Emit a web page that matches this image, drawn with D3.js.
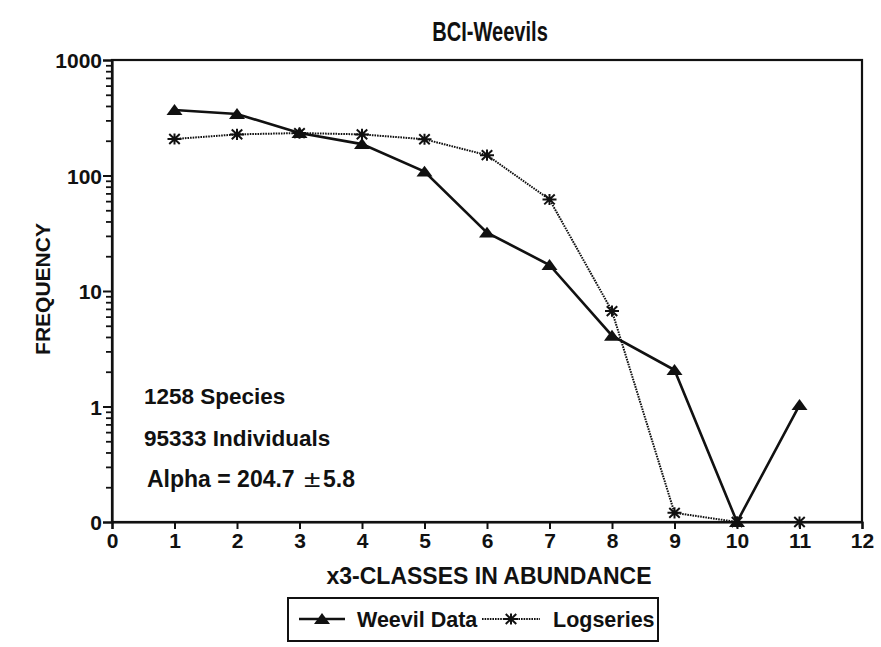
<!DOCTYPE html>
<html><head><meta charset="utf-8">
<script src="https://cdn.jsdelivr.net/npm/d3@7"></script>
<style>body{margin:0;background:#fff}svg{display:block}text{font-family:"Liberation Sans",Arial,sans-serif;fill:#111;font-weight:bold}</style>
</head><body>
<svg id="c" width="881" height="647"></svg>
<script>
const classes = [1,2,3,4,5,6,7,8,9,10,11];
const weevilData = [369, 341, 233, 187, 108, 32, 16.8, 4.1, 2.07, 0, 1.03];
const logseries = [207, 227, 233, 227, 206, 150, 62, 6.7, 0.12, 0, 0];
const xTicks = [0,1,2,3,4,5,6,7,8,9,10,11,12];
const yTickValues = [0.1, 1, 10, 100, 1000];
const yTickLabels = ["0", "1", "10", "100", "1000"];
const annotations = ["1258 Species", "95333 Individuals"];
const alphaText = ["Alpha = 204.7", "\u00B1", "5.8"];

const svg = d3.select("#c");
const L = 112, R = 862, T = 60, B = 522;
const x = d3.scaleLinear().domain([0,12]).range([L,R]);
const y = d3.scaleLog().domain([0.1,1000]).range([B,T]);
const yv = v => y(Math.max(v, 0.1));

// frame
svg.append("rect").attr("x",L).attr("y",T).attr("width",R-L).attr("height",B-T)
  .attr("fill","none").attr("stroke","#111").attr("stroke-width",2.2);

// x axis
const xa = svg.append("g").attr("transform",`translate(0,${B})`)
  .call(d3.axisBottom(x).tickValues(xTicks).tickSize(7).tickPadding(4).tickFormat(d3.format("d")));
xa.select(".domain").attr("stroke","#111").attr("stroke-width",2.2);
xa.selectAll(".tick line").attr("stroke","#111").attr("stroke-width",2);
xa.selectAll("text").style("font-size","21px").attr("fill","#111");

// y axis minor ticks
const minor = [];
for (let d = 0.1; d < 1000; d *= 10) for (let k = 2; k <= 9; k++) minor.push(d*k);
svg.append("g").attr("transform",`translate(${L},0)`)
  .call(d3.axisLeft(y).tickValues(minor).tickSize(6).tickFormat(""))
  .call(g=>g.select(".domain").remove())
  .selectAll(".tick line").attr("stroke","#111").attr("stroke-width",1.8);
const ya = svg.append("g").attr("transform",`translate(${L},0)`)
  .call(d3.axisLeft(y).tickValues(yTickValues).tickSize(9).tickPadding(1)
    .tickFormat((d,i)=>yTickLabels[i]));
ya.select(".domain").attr("stroke","#111").attr("stroke-width",2.2);
ya.selectAll(".tick line").attr("stroke","#111").attr("stroke-width",2);
ya.selectAll("text").style("font-size","21px").attr("fill","#111").attr("dy","0.36em");

// title and axis labels
svg.append("text").attr("transform","translate(490,41) scale(0.73,1)").attr("text-anchor","middle")
  .style("font-size","27.5px").text("BCI-Weevils");
svg.append("text").attr("x",489).attr("y",584).attr("text-anchor","middle")
  .style("font-size","23px").text("x3-CLASSES IN ABUNDANCE");
svg.append("text").attr("transform","translate(50,289) rotate(-90)").attr("text-anchor","middle")
  .style("font-size","21px").text("FREQUENCY");

// annotations
annotations.forEach((t,i)=>{
  svg.append("text").attr("x",144).attr("y",404+i*41.5)
    .style("font-size","22.5px").text(t);
});
const ay = 404 + 2*41.5;
svg.append("text").attr("x",147).attr("y",ay).style("font-size","23px").text(alphaText[0]);
svg.append("text").attr("x",304).attr("y",ay).style("font-size","23px").style("font-weight","normal")
  .attr("transform",`translate(304,${ay}) scale(1.3,1) translate(-304,${-ay})`).text(alphaText[1]);
svg.append("text").attr("x",323).attr("y",ay).style("font-size","23px").text(alphaText[2]);

// lines
const line = d3.line().x(d=>x(d[0])).y(d=>yv(d[1]));
const wPts = classes.map((c,i)=>[c,weevilData[i]]);
const lPts = classes.map((c,i)=>[c,logseries[i]]);
svg.append("path").attr("d",line(lPts)).attr("fill","none").attr("stroke","#111")
  .attr("stroke-width",2).attr("stroke-dasharray","1.6,1");
svg.append("path").attr("d",line(wPts)).attr("fill","none").attr("stroke","#111")
  .attr("stroke-width",2.6);

function tri(g,cx,cy,s){
  g.append("path").attr("d",`M${cx-s},${cy+s*0.62}L${cx},${cy-s*0.75}L${cx+s},${cy+s*0.62}Z`).attr("fill","#111");
}
function star(g,cx,cy,s){
  const d = `M${cx-s},${cy}L${cx+s},${cy}M${cx},${cy-s*0.8}L${cx},${cy+s*0.8}M${cx-s*0.75},${cy-s*0.7}L${cx+s*0.75},${cy+s*0.7}M${cx-s*0.75},${cy+s*0.7}L${cx+s*0.75},${cy-s*0.7}`;
  g.append("path").attr("d",d).attr("stroke","#111").attr("stroke-width",2).attr("fill","none");
}
const mg = svg.append("g");
lPts.forEach(p=>star(mg,x(p[0]),yv(p[1]),7));
wPts.forEach(p=>tri(mg,x(p[0]),yv(p[1]),8));

// legend
const lg = svg.append("g");
lg.append("rect").attr("x",288).attr("y",598).attr("width",370).attr("height",43)
  .attr("fill","none").attr("stroke","#111").attr("stroke-width",2);
lg.append("line").attr("x1",299).attr("x2",345).attr("y1",619).attr("y2",619)
  .attr("stroke","#111").attr("stroke-width",2.6);
tri(lg,322,619,8);
lg.append("text").attr("x",357).attr("y",627).style("font-size","21.5px").text("Weevil Data");
lg.append("line").attr("x1",482).attr("x2",540).attr("y1",619).attr("y2",619)
  .attr("stroke","#111").attr("stroke-width",2).attr("stroke-dasharray","1.6,1");
star(lg,511,619,7);
lg.append("text").attr("x",553).attr("y",627).style("font-size","21.5px").text("Logseries");
</script>
</body></html>
